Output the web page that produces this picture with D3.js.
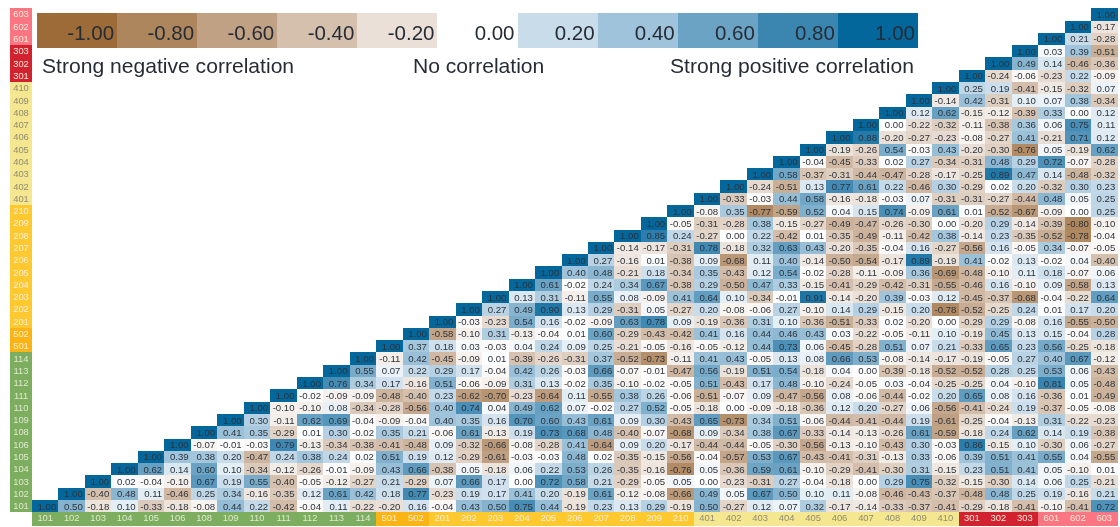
<!DOCTYPE html>
<html>
<head>
<meta charset="utf-8">
<script src="https://cdn.jsdelivr.net/npm/d3@7"></script>
<style>
  html, body { margin: 0; padding: 0; background: #fff; }
  text { font-family: "Liberation Sans", Arial, sans-serif; }
  /* the reference is a soft, upscaled picture */
  #chart { display: block; filter: blur(0.4px); }
</style>
</head>
<body>
<svg id="chart" width="1120" height="527"></svg>
<script>
var labels = ['101','102','103','104','105','106','108','109','110','111','112','113','114',
  '501','502','201','202','203','204','205','206','207','208','209','210',
  '401','402','403','404','405','406','407','408','409','410','301','302','303','601','602','603']

// one list per row, starts at the diagonal and runs to column 603
var r101 = [1.00,0.50,-0.18,0.10,-0.33,-0.18,-0.08,0.44,0.22,-0.42,-0.04,0.11,-0.22,-0.20,0.16,-0.04,0.43,0.50,0.75,0.44,-0.19,0.23,0.13,0.29,-0.19,0.50,-0.27,0.12,0.07,0.32,-0.17,-0.14,-0.33,-0.37,-0.41,-0.29,-0.18,-0.41,-0.10,-0.41,0.72]
var r102 = [1.00,-0.40,0.48,0.11,-0.46,0.25,0.34,-0.16,-0.35,0.12,0.61,0.42,0.18,0.77,-0.23,0.19,0.17,0.41,0.20,-0.19,0.61,-0.12,-0.08,-0.66,0.49,0.05,0.67,0.50,0.10,0.11,-0.08,-0.46,-0.43,-0.37,-0.48,0.48,0.25,0.19,-0.16,0.21]
var r103 = [1.00,0.02,-0.04,-0.10,0.67,0.19,0.55,-0.40,-0.05,-0.12,-0.27,0.21,-0.29,0.07,0.66,0.17,0.00,0.72,0.58,0.21,-0.29,-0.05,0.05,0.00,-0.23,-0.31,0.27,-0.04,-0.18,0.00,0.29,0.75,-0.32,-0.15,-0.30,0.14,0.06,0.25,-0.21]
var r104 = [1.00,0.62,0.14,0.60,0.10,-0.34,-0.12,-0.26,-0.01,-0.09,0.43,0.66,-0.38,0.05,-0.18,0.06,0.22,0.53,0.26,-0.35,-0.16,-0.76,0.05,-0.36,0.59,0.61,-0.10,-0.29,-0.41,-0.30,0.31,-0.15,0.23,0.51,0.41,0.05,-0.10,0.01]
var r105 = [1.00,0.39,0.38,0.20,-0.47,0.24,0.38,0.24,0.02,0.51,0.19,0.12,-0.29,-0.61,-0.03,-0.03,0.48,0.02,-0.35,-0.15,-0.56,-0.04,-0.57,0.53,0.67,-0.43,-0.41,-0.31,-0.13,0.33,-0.06,0.39,0.51,0.41,0.55,0.04,-0.55]
var r106 = [1.00,-0.07,-0.01,-0.03,0.79,-0.13,-0.34,-0.38,-0.41,-0.48,0.09,-0.32,-0.66,-0.08,-0.28,0.41,-0.64,0.09,0.20,-0.17,-0.44,-0.44,-0.05,-0.30,-0.56,-0.13,-0.10,-0.43,0.30,-0.03,0.86,-0.15,0.10,-0.30,0.06,-0.27]
var r108 = [1.00,0.41,0.35,-0.29,0.01,0.30,-0.02,0.35,0.21,-0.06,0.61,-0.13,0.19,0.73,0.68,0.48,-0.40,-0.07,-0.68,0.09,-0.34,0.38,0.67,-0.33,-0.14,-0.13,-0.26,0.61,-0.59,-0.18,0.24,0.62,0.14,0.19,-0.38]
var r109 = [1.00,0.30,-0.11,0.62,0.69,-0.04,-0.09,-0.04,0.40,0.35,0.16,0.70,0.60,0.43,0.61,0.09,0.30,-0.43,0.65,-0.73,0.34,0.51,-0.06,-0.44,-0.41,-0.44,0.19,-0.61,-0.25,-0.04,-0.13,0.31,-0.22,-0.23]
var r110 = [1.00,-0.10,-0.10,0.08,-0.34,-0.28,-0.56,0.40,0.74,0.04,0.49,0.62,0.07,-0.02,0.27,0.52,-0.05,-0.18,0.00,-0.09,-0.18,-0.36,0.12,0.20,-0.27,0.06,-0.56,-0.41,-0.24,0.19,-0.37,-0.05,-0.08]
var r111 = [1.00,-0.02,-0.09,-0.09,-0.48,-0.40,0.23,-0.62,-0.70,-0.23,-0.64,0.11,-0.55,0.38,0.26,-0.06,-0.51,-0.07,0.09,-0.47,-0.56,0.08,-0.06,-0.44,-0.02,0.20,0.65,0.08,0.16,-0.36,0.01,-0.49]
var r112 = [1.00,0.76,0.34,0.17,-0.16,0.51,-0.06,-0.09,0.31,0.13,-0.02,0.35,-0.10,-0.02,-0.05,0.51,-0.43,0.17,0.48,-0.10,-0.24,-0.05,0.03,-0.04,-0.25,-0.25,0.04,-0.10,0.81,0.05,-0.48]
var r113 = [1.00,0.55,0.07,0.22,0.29,0.17,-0.04,0.42,0.26,-0.03,0.66,-0.07,-0.01,-0.47,0.56,-0.19,0.51,0.54,-0.18,0.04,0.00,-0.39,-0.18,-0.52,-0.52,0.28,0.25,0.53,0.06,-0.43]
var r114 = [1.00,-0.11,0.42,-0.45,-0.09,0.01,-0.39,-0.26,-0.31,0.37,-0.52,-0.73,-0.11,0.41,0.43,-0.05,0.13,0.08,0.66,0.53,-0.08,-0.14,-0.17,-0.19,-0.05,0.27,0.40,0.67,-0.12]
var r501 = [1.00,0.37,0.18,0.03,-0.03,0.04,0.24,0.09,0.25,-0.21,-0.05,-0.16,-0.05,-0.12,0.44,0.73,0.06,-0.45,-0.28,0.51,0.07,0.21,-0.33,0.65,0.23,0.56,-0.25,-0.18]
var r502 = [1.00,-0.58,-0.10,0.31,-0.13,-0.04,0.01,0.60,-0.29,-0.43,-0.42,0.41,0.16,0.44,0.46,0.43,0.03,-0.22,-0.05,-0.11,0.10,-0.19,0.45,0.13,0.15,-0.04,0.28]
var r201 = [1.00,-0.03,-0.23,0.54,0.16,-0.02,-0.09,0.63,0.78,0.09,-0.19,-0.36,0.31,0.10,-0.36,-0.51,-0.33,0.02,-0.20,0.00,-0.29,0.29,-0.08,0.16,-0.55,-0.50]
var r202 = [1.00,0.27,0.49,0.90,0.13,0.29,-0.31,0.05,-0.27,0.20,-0.08,-0.06,0.27,-0.10,0.14,0.29,-0.15,0.20,-0.78,-0.52,-0.25,0.24,0.01,0.17,0.20]
var r203 = [1.00,0.13,0.31,-0.11,0.55,0.08,-0.09,0.41,0.64,0.10,-0.34,-0.01,0.91,-0.14,-0.20,0.39,-0.03,0.12,-0.45,-0.37,-0.68,-0.04,-0.22,0.64]
var r204 = [1.00,0.61,-0.02,0.24,0.34,0.67,-0.38,0.29,-0.50,0.47,0.33,-0.15,-0.41,-0.29,-0.42,-0.31,-0.55,-0.46,0.16,-0.10,0.09,-0.58,0.13]
var r205 = [1.00,0.40,0.48,-0.21,0.18,-0.34,0.35,-0.43,0.12,0.54,-0.02,-0.28,-0.11,-0.09,0.36,-0.69,-0.48,-0.10,0.11,0.18,-0.07,0.06]
var r206 = [1.00,0.27,-0.16,0.01,-0.38,0.09,-0.68,0.11,0.40,-0.14,-0.50,-0.54,-0.17,0.89,-0.19,0.41,-0.02,0.13,-0.02,0.04,-0.40]
var r207 = [1.00,-0.14,-0.17,-0.31,0.78,-0.18,0.32,0.63,0.43,-0.20,-0.35,-0.04,0.16,-0.27,-0.56,0.16,-0.05,0.34,-0.07,-0.05]
var r208 = [1.00,0.85,0.24,-0.27,0.00,0.22,-0.42,0.01,-0.35,-0.49,-0.11,-0.42,0.38,-0.14,0.23,-0.35,-0.52,-0.78,-0.04]
var r209 = [1.00,-0.05,-0.31,-0.28,0.38,-0.15,-0.27,-0.49,-0.47,-0.26,-0.30,0.00,-0.20,0.29,-0.14,-0.39,-0.80,-0.10]
var r210 = [1.00,-0.08,0.35,-0.77,-0.59,0.52,0.04,0.15,0.74,-0.09,0.61,0.01,-0.52,-0.67,-0.09,0.00,0.25]
var r401 = [1.00,-0.33,-0.03,0.44,0.58,-0.16,-0.18,-0.03,0.07,-0.31,-0.31,-0.27,-0.44,0.48,0.05,0.25]
var r402 = [1.00,-0.24,-0.51,0.13,0.77,0.61,0.22,-0.46,0.30,-0.29,0.02,0.20,-0.32,0.30,0.23]
var r403 = [1.00,0.58,-0.37,-0.31,-0.44,-0.47,-0.28,-0.17,-0.25,0.89,0.47,0.14,-0.48,-0.32]
var r404 = [1.00,-0.04,-0.45,-0.33,0.02,0.27,-0.34,-0.31,0.48,0.29,0.72,-0.07,-0.28]
var r405 = [1.00,-0.19,-0.26,0.54,-0.03,0.43,-0.20,-0.30,-0.76,0.05,-0.19,0.62]
var r406 = [1.00,0.88,-0.20,-0.27,-0.23,-0.08,-0.27,0.41,-0.21,0.71,0.12]
var r407 = [1.00,0.00,-0.22,-0.32,-0.11,-0.38,0.36,0.06,0.75,0.11]
var r408 = [1.00,0.12,0.62,-0.15,-0.12,-0.39,0.33,0.00,0.12]
var r409 = [1.00,-0.14,0.42,-0.31,0.10,0.07,0.38,-0.34]
var r410 = [1.00,0.25,0.19,-0.41,-0.15,-0.32,0.07]
var r301 = [1.00,-0.24,-0.06,-0.23,0.22,-0.09]
var r302 = [1.00,0.49,0.14,-0.46,-0.36]
var r303 = [1.00,0.03,0.39,-0.51]
var r601 = [1.00,0.21,-0.28]
var r602 = [1.00,-0.17]
var r603 = [1.00]
var rows = [r101,r102,r103,r104,r105,r106,r108,r109,r110,r111,r112,r113,r114,r501,r502,
  r201,r202,r203,r204,r205,r206,r207,r208,r209,r210,
  r401,r402,r403,r404,r405,r406,r407,r408,r409,r410,r301,r302,r303,r601,r602,r603]

var legendValues = [-1,-0.8,-0.6,-0.4,-0.2,0,0.2,0.4,0.6,0.8,1]
var legendColors = ['#9c6b38','#ae865d','#c0a184','#d5c0ad','#eae0d7','#ffffff','#c9dcea','#9ec3da','#6ba3c4','#3b86b1','#03679b']
var legendNotes = ['Strong negative correlation','No correlation','Strong positive correlation']

var svg = d3.select('#chart')
var left = 32, right = 1117.5, top_ = 8.3, bottom = 512.3

var x = d3.scaleBand().domain(labels).range([left, right])
var y = d3.scaleBand().domain(labels.slice().reverse()).range([top_, bottom])
var color = d3.scaleLinear().domain(legendValues).range(legendColors)

function bandColor(l){
  if(l[0] == '1') return '#7dad5e'
  if(l[0] == '5') return '#fab515'
  if(l[0] == '2') return '#fdc92e'
  if(l[0] == '4') return '#f5e690'
  if(l[0] == '3') return '#d2222f'
  return '#fb7583'
}
function bandText(l){
  if(l[0] == '4') return '#8f8c72'
  return l[0] == '1' ? '#dfeacf' : '#ffecd8'
}

// flatten the triangle into cells
var cells = []
rows.forEach(function(row, i){
  row.forEach(function(v, k){
    cells.push({row: labels[i], col: labels[i + k], value: v})
  })
})

var g = svg.append('g')
g.selectAll('rect').data(cells).enter().append('rect')
  .attr('x', function(d){ return x(d.col) })
  .attr('y', function(d){ return y(d.row) })
  .attr('width', x.bandwidth())
  .attr('height', y.bandwidth())
  .attr('shape-rendering', 'crispEdges')
  .attr('fill', function(d){ return color(d.value) })

g.selectAll('text').data(cells).enter().append('text')
  .attr('x', function(d){ return x(d.col) + x.bandwidth() - 2.2 })
  .attr('y', function(d){ return y(d.row) + y.bandwidth() / 2 + 3.4 })
  .attr('text-anchor', 'end')
  .attr('font-size', 9.6)
  .attr('fill', '#2e333b')
  .text(function(d){ return d.value.toFixed(2) })

// label bands, left and bottom
svg.append('g').selectAll('rect').data(labels).enter().append('rect')
  .attr('x', 10).attr('width', left - 10)
  .attr('y', function(d){ return y(d) })
  .attr('height', y.bandwidth())
  .attr('shape-rendering', 'crispEdges')
  .attr('fill', bandColor)
svg.append('g').selectAll('rect').data(labels).enter().append('rect')
  .attr('y', bottom).attr('height', 13.4)
  .attr('x', function(d){ return x(d) })
  .attr('width', x.bandwidth())
  .attr('shape-rendering', 'crispEdges')
  .attr('fill', bandColor)

var yAxis = svg.append('g').attr('transform', 'translate(' + (left - 11) + ',0)')
  .call(d3.axisLeft(y).tickSize(0).tickPadding(0))
var xAxis = svg.append('g').attr('transform', 'translate(0,' + bottom + ')')
  .call(d3.axisBottom(x).tickSize(0).tickPadding(2.5))
yAxis.select('.domain').remove()
xAxis.select('.domain').remove()
yAxis.selectAll('text').attr('text-anchor', 'middle')
svg.selectAll('.tick text')
  .attr('font-family', '"Liberation Sans", Arial, sans-serif')
  .attr('font-size', 9.4)
  .attr('fill', function(d){ return bandText(d) })

// legend
var lx = d3.scaleBand().domain(legendValues).range([37, 918])
var legend = svg.append('g')
legend.selectAll('rect').data(legendValues).enter().append('rect')
  .attr('x', function(d){ return lx(d) })
  .attr('y', 12.5)
  .attr('width', lx.bandwidth())
  .attr('height', 35)
  .attr('shape-rendering', 'crispEdges')
  .attr('fill', function(d){ return color(d) })
legend.selectAll('text.val').data(legendValues).enter().append('text')
  .attr('class', 'val')
  .attr('x', function(d){ return lx(d) + lx.bandwidth() - 3 })
  .attr('y', 39.5)
  .attr('text-anchor', 'end')
  .attr('font-size', 20.5)
  .attr('fill', '#262c35')
  .text(function(d){ return d.toFixed(2) })
legend.selectAll('text.note').data(legendNotes).enter().append('text')
  .attr('class', 'note')
  .attr('x', function(d, i){ return [42, 413, 670][i] })
  .attr('y', 73)
  .attr('font-size', 21.1)
  .attr('fill', '#262c35')
  .text(function(d){ return d })
</script>
</body>
</html>
